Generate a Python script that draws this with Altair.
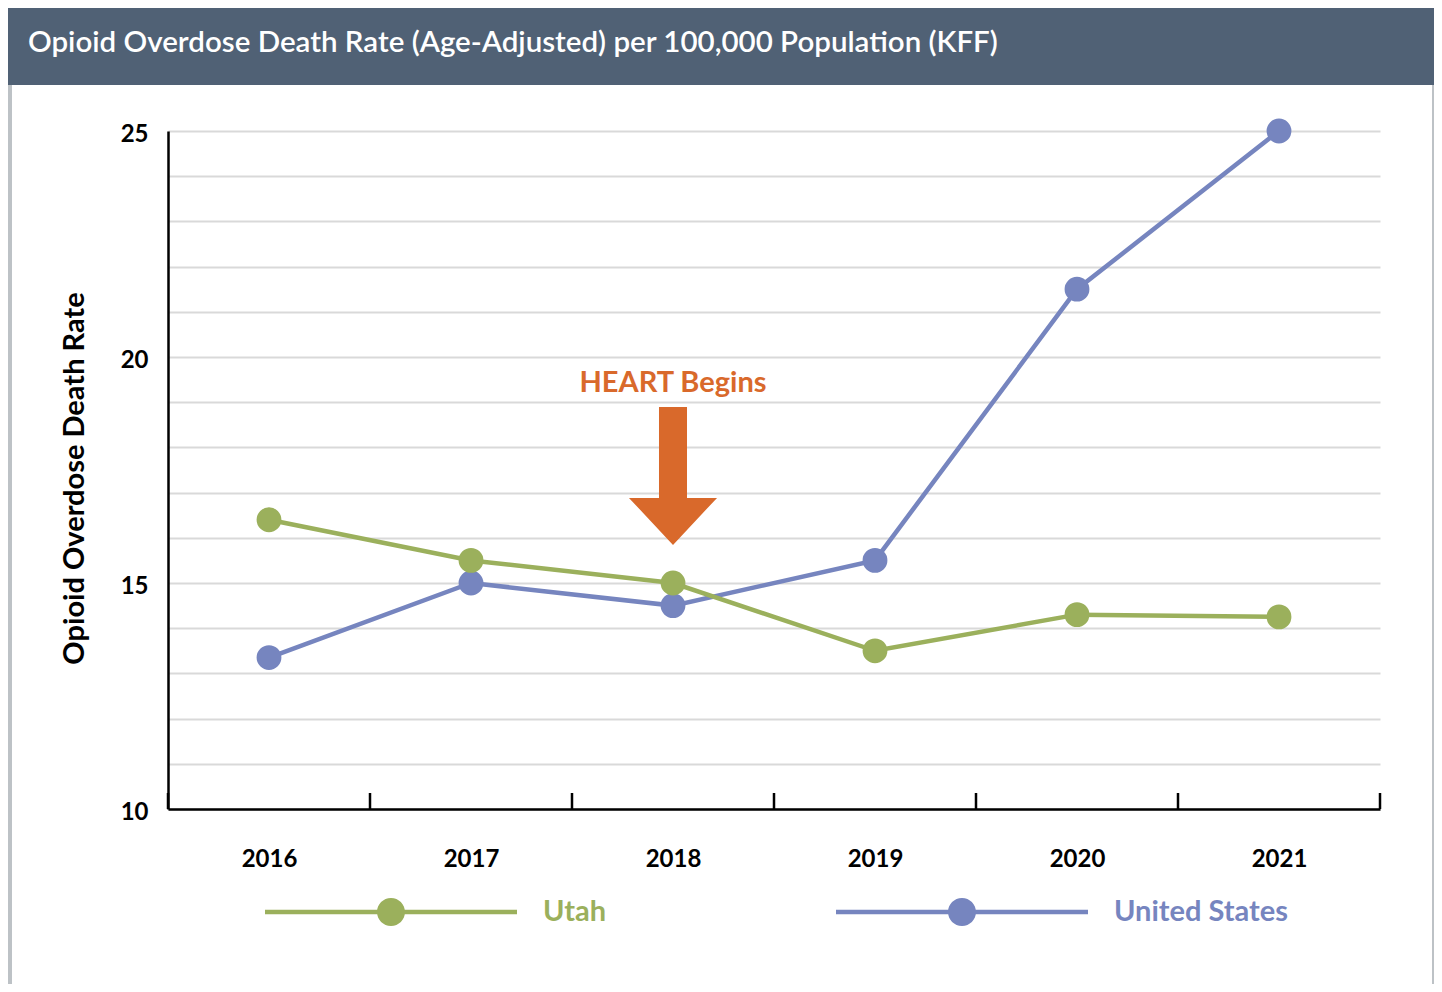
import altair as alt
import pandas as pd

# ---------------- data ----------------
years = [2016, 2017, 2018, 2019, 2020, 2021]
utah_rates = [16.4, 15.5, 15.0, 13.5, 14.3, 14.25]
us_rates = [13.35, 15.0, 14.5, 15.5, 21.5, 25.0]
series_names = ["Utah", "United States"]
y_grid_values = list(range(10, 26))
x_boundaries = [2015.5, 2016.5, 2017.5, 2018.5, 2019.5, 2020.5, 2021.5]
title_text = "Opioid Overdose Death Rate (Age-Adjusted) per 100,000 Population (KFF)"
y_title = "Opioid Overdose Death Rate"
annotation_label = ["HEART Begins"]
annotation_year = [2018]
annotation_label_y = [19.42]
annotation_arrow_y = [17.37]

# ---------------- style ----------------
W, H = 1212, 678
GREEN = "#9bb05c"
BLUE = "#7685bf"
ORANGE = "#d9692b"
BAR = "#506175"
FRAME = "#bdc2c6"
FONT = "Lato"

ARROW = ("M-0.203,-1 L0.203,-1 L0.203,0.319 L0.638,0.319 L0,1 "
         "L-0.638,0.319 L-0.203,0.319 Z")
LEG = ("M-1,-0.018 L-0.1,-0.018 L-0.1,0.018 L-1,0.018 Z "
       "M0.1,-0.018 L1,-0.018 L1,0.018 L0.1,0.018 Z "
       "M0.111,0 A0.111,0.111 0 1,1 -0.111,0 A0.111,0.111 0 1,1 0.111,0 Z")

df_utah = pd.DataFrame({"year": years, "rate": utah_rates, "series": series_names[0]})
df_us = pd.DataFrame({"year": years, "rate": us_rates, "series": series_names[1]})
df_bounds = pd.DataFrame({"b": x_boundaries})
df_ann = pd.DataFrame({"year": annotation_year, "ly": annotation_label_y,
                       "ay": annotation_arrow_y, "label": annotation_label})
df_title = pd.DataFrame({"t": [title_text]})
one = pd.DataFrame({"k": [0]})

x_scale = alt.Scale(domain=[2015.5, 2021.5], nice=False, zero=False)
y_scale = alt.Scale(domain=[10, 25], nice=False, zero=False)

x_enc = alt.X("year:Q", scale=x_scale, axis=alt.Axis(
    values=years, format="d", title=None, grid=False, ticks=False,
    labelFont=FONT, labelFontSize=24, labelFontWeight="bold", labelColor="black",
    labelPadding=50, labelBaseline="middle",
    domainColor="black", domainWidth=2.5))
y_enc = alt.Y("rate:Q", scale=y_scale, axis=alt.Axis(
    values=y_grid_values, labelExpr="datum.value % 5 == 0 ? datum.label : ''",
    ticks=False, grid=True, gridColor="#d9d9d9", gridWidth=2,
    domainColor="black", domainWidth=2.5,
    labelFont=FONT, labelFontSize=24, labelFontWeight="bold", labelColor="black",
    labelPadding=20, labelOffset=3,
    title=y_title, titleFont=FONT, titleFontSize=29, titleFontWeight="bold",
    titleColor="black", titlePadding=31, titleY=347))


def legend_for(x, color):
    return alt.Legend(orient="none", legendX=x, legendY=655, title=None,
                      direction="horizontal", symbolType=LEG, symbolSize=63504,
                      symbolStrokeWidth=0, symbolOpacity=1, padding=0,
                      labelFont=FONT, labelFontSize=29, labelFontWeight="bold",
                      labelColor=color, labelOffset=26, labelLimit=500)


# decorative frame / title bar
title_bar = alt.Chart(one).mark_rect(color=BAR).encode(
    x=alt.value(-160), x2=alt.value(1266), y=alt.value(-124), y2=alt.value(-46))
frame_left = alt.Chart(one).mark_rect(color=FRAME).encode(
    x=alt.value(-160), x2=alt.value(-156), y=alt.value(-46), y2=alt.value(860))
frame_right = alt.Chart(one).mark_rect(color=FRAME).encode(
    x=alt.value(1264), x2=alt.value(1266), y=alt.value(-46), y2=alt.value(860))
title = alt.Chart(df_title).mark_text(
    align="left", baseline="middle", font=FONT, fontSize=29.5, fontWeight=600,
    color="white").encode(
    x=alt.value(-140), y=alt.value(-88), text="t:N")

# data layers
us_line = alt.Chart(df_us).mark_line(color=BLUE, strokeWidth=4.5).encode(x=x_enc, y=y_enc)
us_pts = alt.Chart(df_us).mark_point(filled=True, size=616, opacity=1, strokeWidth=0).encode(
    x=x_enc, y=y_enc,
    color=alt.Color("series:N", scale=alt.Scale(domain=[series_names[1]], range=[BLUE]),
                    legend=legend_for(668, BLUE)))
ut_line = alt.Chart(df_utah).mark_line(color=GREEN, strokeWidth=4.5).encode(x=x_enc, y=y_enc)
ut_pts = alt.Chart(df_utah).mark_point(filled=True, size=616, opacity=1, strokeWidth=0).encode(
    x=x_enc, y=y_enc,
    color=alt.Color("series:N", scale=alt.Scale(domain=[series_names[0]], range=[GREEN]),
                    legend=legend_for(97, GREEN)))

ticks = alt.Chart(df_bounds).mark_rule(color="black", strokeWidth=2.5).encode(
    x=alt.X("b:Q", scale=x_scale), y=alt.value(H), y2=alt.value(H - 16))

arrow = alt.Chart(df_ann).mark_point(shape=ARROW, size=19044, filled=True,
                                     color=ORANGE, opacity=1, strokeWidth=0).encode(
    x=alt.X("year:Q", scale=x_scale), y=alt.Y("ay:Q", scale=y_scale))
ann_text = alt.Chart(df_ann).mark_text(font=FONT, fontSize=29, fontWeight="bold",
                                       color=ORANGE, baseline="middle").encode(
    x=alt.X("year:Q", scale=x_scale), y=alt.Y("ly:Q", scale=y_scale), text="label:N")

chart = alt.layer(
    title_bar, frame_left, frame_right, title,
    us_line, us_pts, ut_line, ut_pts, ticks, arrow, ann_text
).resolve_scale(color="independent").properties(
    width=W, height=H,
    autosize=alt.AutoSizeParams(type="none"),
    padding={"left": 160, "top": 123, "right": 54, "bottom": 175},
    background="white",
).configure_view(stroke=None)

chart.save("out.html", embed_options={"renderer": "svg", "actions": False})
